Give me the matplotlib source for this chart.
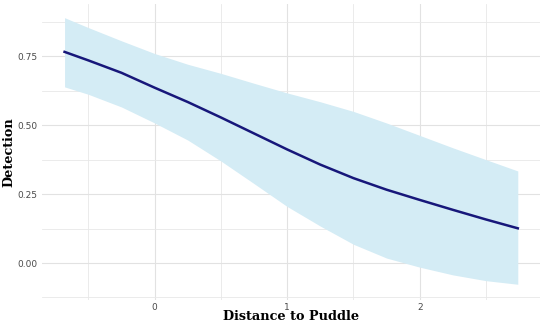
import matplotlib
matplotlib.use("Agg")
import matplotlib.pyplot as plt
from matplotlib.ticker import MultipleLocator

# values
distance = [-0.68, -0.5, -0.25, 0.0, 0.25, 0.5, 0.75, 1.0, 1.25, 1.5, 1.75, 2.0, 2.25, 2.5, 2.74]
fit = [0.766, 0.735, 0.690, 0.636, 0.584, 0.528, 0.470, 0.412, 0.357, 0.308,
       0.266, 0.229, 0.193, 0.158, 0.126]
upper = [0.890, 0.854, 0.806, 0.760, 0.721, 0.688, 0.652, 0.617, 0.585, 0.550,
         0.508, 0.463, 0.418, 0.375, 0.334]
lower = [0.639, 0.612, 0.566, 0.508, 0.446, 0.370, 0.288, 0.205, 0.134, 0.068,
         0.018, -0.015, -0.043, -0.064, -0.077]

y_ticks = [0.0, 0.25, 0.5, 0.75]
x_ticks = [0, 1, 2]

fig = plt.figure(figsize=(5.5, 3.25), dpi=100)
ax = fig.add_axes([0.0764, 0.077, 0.906, 0.911])

ax.fill_between(distance, lower, upper, color="#d4ecf5", linewidth=0, zorder=2)
ax.plot(distance, fit, color="#17177a", linewidth=1.8, zorder=3)

ax.set_xlim(-0.85, 2.91)
ax.set_ylim(-0.134, 0.94)
ax.set_xticks(x_ticks)
ax.set_yticks(y_ticks)
ax.set_yticklabels([f"{t:.2f}" for t in y_ticks])
ax.xaxis.set_minor_locator(MultipleLocator(0.5))
ax.yaxis.set_minor_locator(MultipleLocator(0.125))

ax.grid(which="major", color="#e2e2e2", linewidth=0.8, zorder=0)
ax.grid(which="minor", color="#e8e8e8", linewidth=0.6, zorder=0)
ax.set_axisbelow(True)
for s in ax.spines.values():
    s.set_visible(False)
ax.tick_params(which="both", length=0, labelsize=6.5, labelcolor="#4a4a4a")
ax.tick_params(axis="x", pad=2)
ax.tick_params(axis="y", pad=3.5)

ax.set_xlabel("Distance to Puddle", family="DejaVu Serif", fontweight="bold",
              fontsize=9.3, labelpad=-1)
ax.set_ylabel("Detection", family="DejaVu Serif", fontweight="bold", fontsize=9.3)
ax.yaxis.set_label_coords(-0.053, 0.5)

fig.savefig("out.png", dpi=100)
